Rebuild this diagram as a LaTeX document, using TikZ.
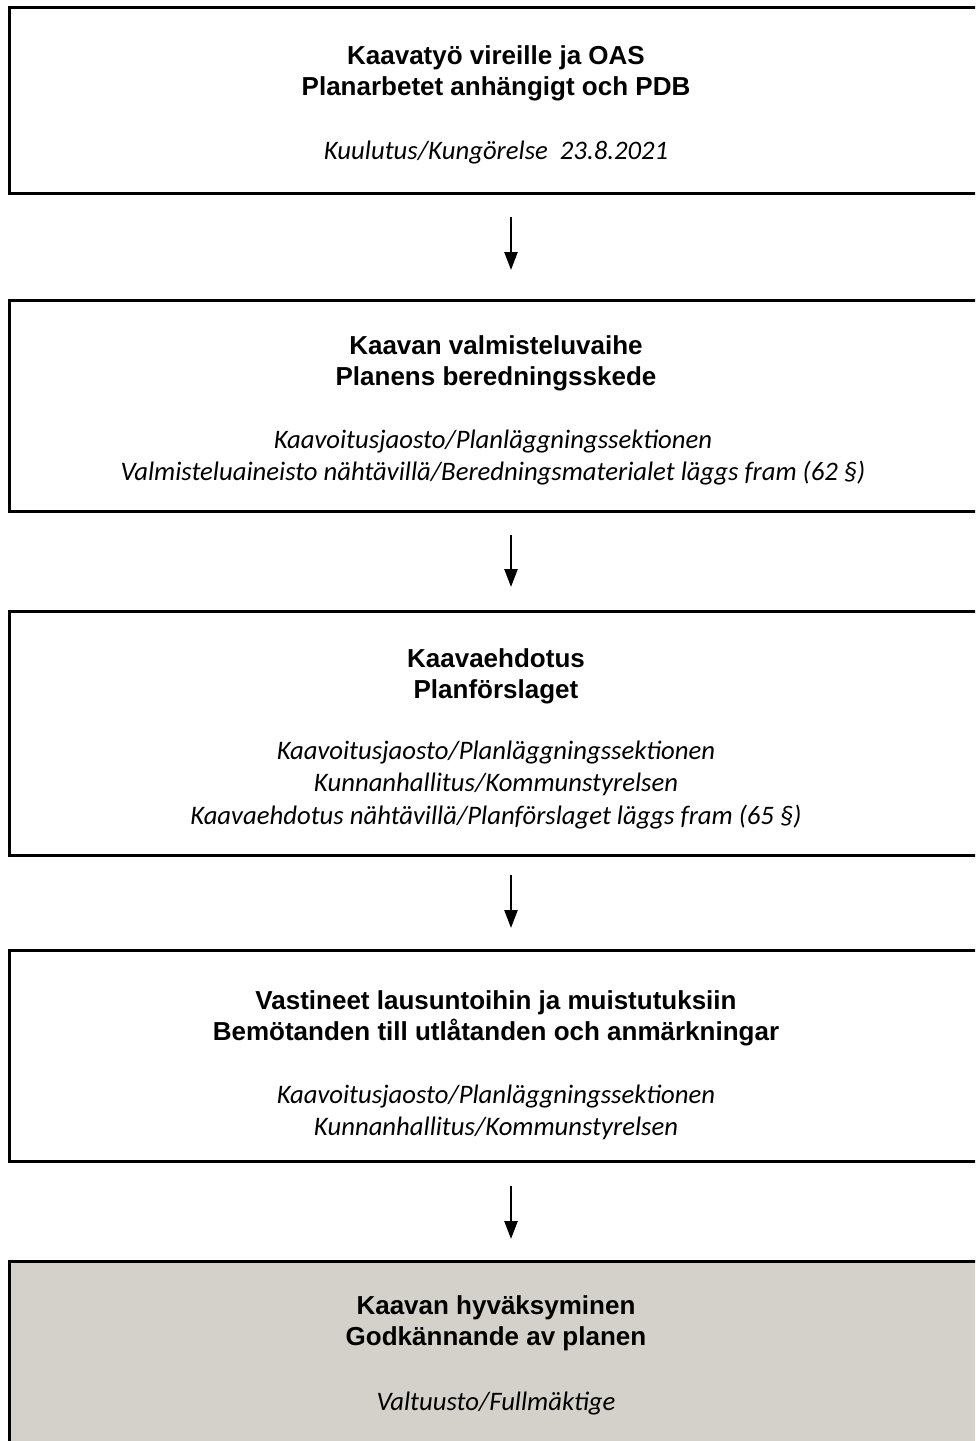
\documentclass[tikz,border=0pt]{standalone}
\usepackage{fontspec}
\setmainfont{Liberation Sans}
\newfontfamily\notefont{Carlito}
\usetikzlibrary{positioning, calc, arrows.meta}

\definecolor{approvalgrey}{RGB}{212,209,202}

\tikzset{
    stage/.style={draw, line width=3pt, minimum width=969.5pt, inner sep=0pt},
    head/.style={align=center, font=\fontsize{26}{31}\selectfont\bfseries},
    note/.style={align=center, font=\fontsize{26.7}{32.5}\selectfont\notefont\itshape},
    flow/.style={-{Triangle[width=13pt,length=18pt]}, line width=2.5pt},
}

\begin{document}
\begin{tikzpicture}[x=1pt, y=-1pt]
    \clip (0,0) rectangle (975,1441);

    % the five stages of the plan
    \node[stage, minimum height=185.5pt] (oas) at (494.25,100.25) {};
    \node[stage, minimum height=211pt] (valm) at (494.25,406) {};
    \node[stage, minimum height=244pt] (ehd) at (494.25,733) {};
    \node[stage, minimum height=211.5pt] (vast) at (494.25,1055.75) {};
    \node[stage, fill=approvalgrey, minimum height=200pt] (hyv) at (494.25,1361) {};

    \node[head] (oas-head) at (496,73) {Kaavatyö vireille ja OAS\\Planarbetet anhängigt och PDB};
    \node[note] (oas-note) at (496,152.5) {Kuulutus/Kungörelse~ 23.8.2021};

    \node[head] (valm-head) at (496,363) {Kaavan valmisteluvaihe\\Planens beredningsskede};
    \node[note] (valm-note) at (493,457.5) {Kaavoitusjaosto/Planläggningssektionen\\
        Valmisteluaineisto nähtävillä/Beredningsmaterialet läggs fram (62 §)};

    \node[head] (ehd-head) at (496,676) {Kaavaehdotus\\Planförslaget};
    \node[note] (ehd-note) at (496,785) {Kaavoitusjaosto/Planläggningssektionen\\
        Kunnanhallitus/Kommunstyrelsen\\
        Kaavaehdotus nähtävillä/Planförslaget läggs fram (65 §)};

    \node[head] (vast-head) at (496,1018) {Vastineet lausuntoihin ja muistutuksiin\\Bemötanden till utlåtanden och anmärkningar};
    \node[note] (vast-note) at (496,1112.5) {Kaavoitusjaosto/Planläggningssektionen\\
        Kunnanhallitus/Kommunstyrelsen};

    \node[head] (hyv-head) at (496,1323.5) {Kaavan hyväksyminen\\Godkännande av planen};
    \node[note] (hyv-note) at (496,1403.5) {Valtuusto/Fullmäktige};

    % arrows between the stages
    \draw[flow, shorten <=22.5pt, shorten >=29pt] ([xshift=16.75pt]oas.south) -- ([xshift=16.75pt]valm.north);
    \draw[flow, shorten <=22pt, shorten >=22.5pt] ([xshift=16.75pt]valm.south) -- ([xshift=16.75pt]ehd.north);
    \draw[flow, shorten <=18.5pt, shorten >=20.5pt] ([xshift=16.75pt]ehd.south) -- ([xshift=16.75pt]vast.north);
    \draw[flow, shorten <=23pt, shorten >=20.5pt] ([xshift=16.75pt]vast.south) -- ([xshift=16.75pt]hyv.north);
\end{tikzpicture}
\end{document}
